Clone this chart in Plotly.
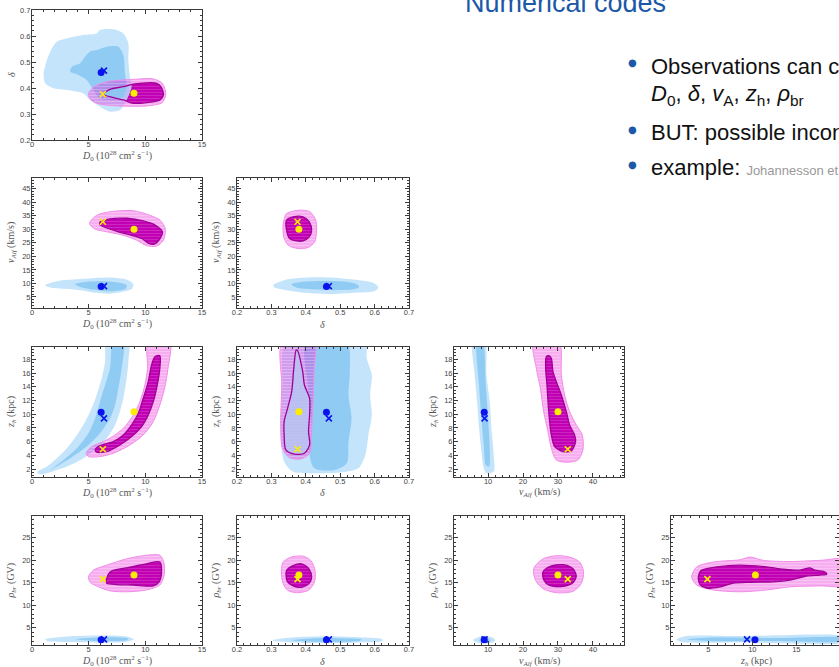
import plotly.graph_objects as go

# ---------------------------------------------------------------------------
# Best-fit points (dot = posterior mean, cross = best fit) for the two setups
# ---------------------------------------------------------------------------
PARAMS = ["D0", "delta", "vA", "zh", "rho"]
BLUE_DOT = [6.1, 0.460, 8.9, 10.3, 2.35]
BLUE_X = [6.35, 0.467, 9.0, 9.4, 2.45]
YELLOW_DOT = [9.0, 0.380, 30.0, 10.35, 16.7]
YELLOW_X = [6.25, 0.376, 32.8, 4.9, 15.8]

# ---------------------------------------------------------------------------
# Credible-region outlines (68% inner, 95% outer) for each parameter pair
# ---------------------------------------------------------------------------
# D0 - delta
D0_DELTA_BLUE_OUT = [(1.76, 0.553), (2.2, 0.578), (3.08, 0.591), (4.54, 0.604), (5.71, 0.610), (6.0, 0.623),
                     (7.18, 0.626), (8.06, 0.610), (8.5, 0.572), (8.5, 0.508), (8.64, 0.444), (8.79, 0.405),
                     (8.35, 0.354), (7.76, 0.315), (6.89, 0.309), (6.0, 0.328), (5.13, 0.354), (4.54, 0.379),
                     (3.08, 0.392), (1.9, 0.399), (1.17, 0.418), (1.03, 0.456), (1.32, 0.508)]
D0_DELTA_BLUE_IN = [(5.13, 0.540), (5.71, 0.546), (6.59, 0.559), (7.62, 0.559), (8.06, 0.527), (8.2, 0.456),
                    (8.35, 0.405), (8.06, 0.367), (7.18, 0.354), (6.0, 0.360), (5.42, 0.392), (4.83, 0.431),
                    (4.1, 0.45), (3.37, 0.463), (3.52, 0.482), (4.25, 0.495), (4.69, 0.521)]
D0_DELTA_MAG_OUT = [(4.98, 0.377), (5.42, 0.403), (6.59, 0.424), (8.94, 0.433), (10.7, 0.435), (11.5, 0.418),
                    (11.8, 0.379), (11.5, 0.344), (10.1, 0.331), (7.76, 0.331), (6.0, 0.338), (5.19, 0.354)]
D0_DELTA_MAG_IN = [(6.3, 0.376), (6.89, 0.395), (8.06, 0.405), (8.94, 0.415), (10.1, 0.420), (11.0, 0.418),
                   (11.4, 0.403), (11.6, 0.373), (11.3, 0.354), (10.1, 0.344), (8.94, 0.341), (8.06, 0.354),
                   (7.18, 0.363)]

# D0 - vA
D0_VA_BLUE_OUT = [(1.17, 9.32), (2.2, 10.8), (4.54, 11.7), (6.89, 12.2), (8.35, 11.4), (8.94, 9.7), (8.82, 8.0),
                  (8.2, 7.1), (6.89, 6.2), (5.71, 6.5), (4.25, 7.5), (2.78, 8.0), (1.61, 8.5)]
D0_VA_BLUE_IN = [(3.8, 9.7), (4.83, 10.6), (6.3, 10.8), (7.47, 10.4), (8.35, 9.3), (8.29, 8.1), (7.62, 7.35),
                 (6.59, 7.1), (5.42, 7.7), (4.25, 8.7)]
D0_VA_MAG_OUT = [(5.07, 32.2), (5.71, 35.2), (6.89, 36.5), (8.94, 36.9), (10.4, 35.2), (11.3, 33.4), (11.75, 30.3),
                 (11.6, 26.0), (11.0, 23.8), (10.1, 24.0), (9.23, 26.0), (8.06, 27.8), (6.59, 29.1), (5.57, 30.1)]
D0_VA_MAG_IN = [(6.0, 32.7), (6.89, 33.9), (8.35, 34.1), (9.82, 33.1), (10.9, 31.5), (11.5, 29.1), (11.3, 26.6),
                (10.75, 24.5), (10.3, 24.8), (9.67, 26.6), (8.79, 27.8), (7.62, 29.1), (6.53, 30.6), (6.0, 31.7)]

# delta - vA
DELTA_VA_BLUE_OUT = [(0.305, 9.3), (0.344, 11.4), (0.402, 12.2), (0.47, 12.2), (0.538, 11.4), (0.596, 10.2),
                     (0.611, 8.5), (0.601, 7.2), (0.538, 6.5), (0.47, 6.0), (0.402, 6.5), (0.344, 7.5), (0.31, 8.5)]
DELTA_VA_BLUE_IN = [(0.358, 9.7), (0.392, 10.6), (0.46, 10.9), (0.518, 10.6), (0.548, 9.7), (0.555, 8.7),
                    (0.538, 7.8), (0.48, 7.5), (0.421, 7.8), (0.373, 8.5)]
DELTA_VA_MAG_OUT = [(0.344, 35.9), (0.383, 37.1), (0.412, 36.5), (0.429, 33.4), (0.431, 29.1), (0.426, 25.4),
                    (0.407, 23.3), (0.378, 22.9), (0.349, 24.1), (0.336, 27.2), (0.334, 31.5), (0.339, 34.6)]
DELTA_VA_MAG_IN = [(0.344, 33.4), (0.363, 34.6), (0.392, 34.6), (0.41, 32.8), (0.417, 29.7), (0.41, 27.2),
                   (0.392, 25.7), (0.373, 25.7), (0.353, 26.6), (0.344, 29.7)]

# D0 - zh
D0_ZH_BLUE_OUT = [(0.44, 1.55), (1.32, 2.37), (2.2, 3.58), (3.08, 5.04), (3.96, 6.98), (4.69, 8.92), (5.27, 10.86),
                  (5.71, 12.8), (6.15, 15.23), (6.45, 17.66), (6.59, 20.5), (8.5, 20.5), (8.5, 17.66),
                  (8.35, 15.23), (8.12, 12.8), (7.76, 10.4), (7.33, 8.44), (6.59, 6.5), (5.71, 5.04),
                  (4.54, 3.58), (3.08, 2.37), (1.61, 1.55), (0.73, 1.25)]
D0_ZH_BLUE_IN = [(1.61, 1.88), (2.78, 3.34), (3.96, 5.04), (4.98, 7.22), (5.57, 9.41), (6.0, 11.83), (6.45, 14.26),
                 (6.89, 16.69), (7.18, 20.5), (8.06, 20.5), (7.91, 16.69), (7.62, 13.78), (7.33, 11.35),
                 (6.89, 9.41), (6.0, 7.22), (4.83, 5.28), (3.37, 3.58), (1.9, 2.13)]
D0_ZH_MAG_OUT = [(4.78, 4.31), (5.27, 5.28), (6.3, 6.01), (7.33, 6.98), (8.2, 8.19), (8.94, 9.89), (9.52, 11.83),
                 (9.96, 14.26), (10.2, 16.69), (10.26, 20.5), (12.16, 20.5), (12.0, 16.69), (11.7, 13.78),
                 (11.28, 11.35), (10.7, 8.92), (9.82, 6.98), (8.64, 5.52), (7.18, 4.31), (6.0, 3.83), (4.98, 3.83)]
D0_ZH_MAG_IN = [(5.57, 4.8), (6.0, 5.43), (7.18, 6.01), (8.06, 6.98), (8.79, 8.44), (9.38, 10.14), (9.82, 12.32),
                (10.26, 14.75), (10.55, 17.17), (10.84, 18.39), (11.28, 18.53), (11.28, 16.69), (11.05, 14.26),
                (10.7, 11.83), (10.26, 9.89), (9.67, 8.19), (8.79, 6.74), (7.76, 5.52), (6.59, 4.55), (5.71, 4.46)]

# delta - zh
DELTA_ZH_BLUE_OUT = [(0.342, 20.5), (0.332, 14.26), (0.327, 6.98), (0.337, 3.1), (0.362, 1.64), (0.425, 1.4),
                     (0.504, 1.54), (0.553, 2.13), (0.573, 4.07), (0.582, 6.98), (0.592, 9.89), (0.587, 12.8),
                     (0.592, 15.72), (0.577, 18.15), (0.573, 20.5)]
DELTA_ZH_BLUE_IN = [(0.401, 20.5), (0.406, 14.26), (0.416, 7.95), (0.411, 4.07), (0.425, 2.13), (0.484, 1.88),
                    (0.519, 2.85), (0.524, 6.01), (0.533, 9.41), (0.524, 12.8), (0.528, 16.2), (0.519, 20.5)]
DELTA_ZH_MAG_OUT = [(0.332, 20.5), (0.33, 14.26), (0.327, 7.95), (0.332, 5.04), (0.352, 3.68), (0.386, 3.49),
                    (0.411, 4.31), (0.416, 6.98), (0.421, 11.83), (0.424, 16.69), (0.425, 20.5)]
DELTA_ZH_MAG_IN = [(0.375, 19.36), (0.391, 16.2), (0.396, 14.26), (0.411, 12.32), (0.411, 9.89), (0.408, 7.47),
                   (0.411, 5.52), (0.396, 4.31), (0.367, 4.17), (0.342, 4.8), (0.337, 6.98), (0.337, 8.92),
                   (0.347, 10.86), (0.359, 13.29), (0.365, 16.69), (0.372, 19.36)]

# vA - zh
VA_ZH_BLUE_OUT = [(5.72, 20.5), (6.19, 15.72), (6.86, 11.83), (7.43, 7.95), (8.1, 4.55), (8.77, 2.13), (9.53, 1.4),
                  (11.62, 1.64), (11.62, 4.07), (10.96, 7.95), (10.48, 11.83), (9.53, 15.72), (9.05, 20.5)]
VA_ZH_BLUE_IN = [(6.86, 20.5), (7.43, 14.26), (8.1, 9.41), (8.77, 5.52), (9.34, 2.61), (10.29, 2.37), (10.48, 5.04),
                 (10.0, 9.41), (9.34, 14.26), (8.39, 20.5)]
VA_ZH_MAG_OUT = [(23.05, 20.5), (23.81, 16.69), (24.96, 13.78), (25.91, 10.38), (27.15, 7.47), (28.1, 5.04),
                 (29.53, 3.34), (32.39, 3.0), (35.7, 3.34), (37.15, 4.8), (36.96, 6.98), (35.24, 8.44),
                 (33.34, 10.38), (31.91, 12.8), (30.96, 15.72), (30.29, 20.5)]
VA_ZH_MAG_IN = [(26.67, 18.39), (26.48, 16.69), (26.86, 14.26), (27.15, 11.83), (27.62, 8.92), (28.1, 6.98),
                (29.05, 5.28), (31.43, 4.55), (33.81, 4.65), (35.05, 6.01), (34.76, 6.98), (33.34, 8.44),
                (32.39, 10.38), (30.96, 12.8), (29.53, 14.75), (28.58, 16.2), (28.1, 18.15), (27.43, 18.53)]

# D0 - rho_br
D0_RHO_BLUE_OUT = [(1.17, 2.45), (3.08, 3.1), (6.0, 3.32), (8.35, 3.1), (9.0, 2.45), (8.35, 1.93), (6.0, 1.72),
                   (3.08, 1.86), (1.32, 2.08)]
D0_RHO_BLUE_IN = [(3.8, 2.45), (5.42, 2.8), (7.18, 2.9), (8.5, 2.6), (8.35, 2.23), (6.89, 2.08), (5.13, 2.15)]
D0_RHO_MAG_OUT = [(4.98, 16.3), (5.42, 17.8), (6.59, 18.9), (8.35, 20.3), (10.1, 21.1), (11.28, 21.1),
                  (11.63, 19.6), (11.66, 16.7), (11.28, 14.5), (10.1, 13.4), (8.35, 13.0), (6.89, 13.2),
                  (5.86, 14.1), (5.13, 15.1)]
D0_RHO_MAG_IN = [(6.53, 15.2), (6.89, 17.4), (8.35, 18.3), (10.1, 19.2), (11.28, 19.6), (11.43, 17.4),
                 (11.22, 15.2), (10.7, 14.3), (8.94, 14.5), (7.47, 14.6), (6.59, 14.9)]

# delta - rho_br
DELTA_RHO_BLUE_OUT = [(0.304, 2.28), (0.358, 2.87), (0.456, 3.16), (0.554, 2.94), (0.622, 2.5), (0.622, 2.06),
                      (0.554, 1.76), (0.456, 1.62), (0.358, 1.76), (0.31, 2.06)]
DELTA_RHO_BLUE_IN = [(0.358, 2.28), (0.417, 2.65), (0.495, 2.72), (0.563, 2.43), (0.554, 2.06), (0.485, 1.91),
                     (0.407, 1.98)]
DELTA_RHO_MAG_OUT = [(0.334, 19.6), (0.358, 20.7), (0.392, 20.9), (0.415, 19.9), (0.427, 17.7), (0.425, 15.1),
                     (0.407, 13.3), (0.373, 12.8), (0.348, 13.3), (0.334, 14.8), (0.329, 17.4)]
DELTA_RHO_MAG_IN = [(0.344, 17.7), (0.363, 18.8), (0.388, 19.2), (0.409, 18.1), (0.417, 16.25), (0.409, 14.8),
                    (0.388, 14.0), (0.363, 14.3), (0.346, 15.3)]

# vA - rho_br
VA_RHO_BLUE_OUT = [(5.71, 2.28), (7.14, 2.94), (9.05, 3.16), (10.95, 3.0), (12.1, 2.28), (10.95, 1.69),
                   (9.05, 1.54), (7.14, 1.69)]
VA_RHO_BLUE_IN = [(7.43, 2.28), (8.57, 2.72), (10.0, 2.72), (10.76, 2.28), (10.0, 1.84), (8.57, 1.84)]
VA_RHO_MAG_OUT = [(23.05, 18.1), (25.71, 20.3), (29.52, 21.0), (33.33, 20.7), (36.19, 19.6), (37.33, 17.4),
                  (36.67, 14.8), (34.29, 13.1), (29.52, 12.8), (25.71, 13.7), (23.62, 15.5)]
VA_RHO_MAG_IN = [(25.71, 17.4), (27.62, 18.6), (31.43, 19.0), (34.29, 18.1), (35.24, 16.5), (34.29, 15.0),
                 (31.43, 14.2), (27.62, 14.4), (25.9, 15.7)]

# zh - rho_br
ZH_RHO_BLUE_OUT = [(1.4, 2.45), (2.54, 3.18), (8.6, 3.18), (21.0, 3.0), (21.0, 1.93), (8.6, 1.79), (2.0, 1.85)]
ZH_RHO_BLUE_IN = [(2.54, 2.45), (4.81, 2.8), (12.39, 2.74), (21.0, 2.74), (21.0, 2.15), (12.39, 2.08),
                  (4.81, 2.08)]
ZH_RHO_MAG_OUT = [(3.11, 16.3), (3.68, 18.5), (5.57, 19.6), (8.6, 20.1), (9.74, 20.7), (11.25, 19.96),
                  (14.28, 19.7), (17.69, 19.96), (21.0, 20.1), (21.0, 14.5), (17.69, 14.3), (14.28, 14.1),
                  (11.63, 13.4), (8.6, 13.0), (5.57, 13.4), (3.68, 14.5)]
ZH_RHO_MAG_IN = [(3.87, 16.3), (4.25, 17.8), (5.95, 18.5), (8.6, 18.9), (11.63, 18.5), (13.52, 18.0),
                 (15.42, 17.8), (16.56, 18.3), (17.12, 17.8), (18.26, 17.4), (18.45, 16.9), (17.69, 16.7),
                 (16.18, 16.5), (14.28, 15.6), (12.39, 15.2), (9.74, 15.1), (7.84, 14.9), (6.33, 14.1),
                 (4.81, 13.8), (4.06, 14.6)]

# ---------------------------------------------------------------------------
# Axes: labels, ranges, ticks
# ---------------------------------------------------------------------------
LABELS = {
    "D0": "<i>D</i><sub>0</sub> (10<sup>28</sup> cm<sup>2</sup> s<sup>\u22121</sup>)",
    "delta": "<i>\u03b4</i>",
    "vA": "<i>v<sub>Alf</sub></i> (km/s)",
    "zh": "<i>z<sub>h</sub></i> (kpc)",
    "rho": "<i>\u03c1<sub>br</sub></i> (GV)",
}
X_RANGE = {"D0": [0, 15], "delta": [0.2, 0.7], "vA": [0.25, 48.9], "zh": [0.76, 19.85]}
Y_RANGE = {"delta": [0.2, 0.7], "vA": [0.9, 49.0], "zh": [0.85, 19.8], "rho": [1.2, 29.8]}
X_TICKS = {"D0": (5, 1), "delta": (0.1, 0.02), "vA": (10, 2), "zh": (5, 1)}
Y_TICKS = {"delta": (0.1, 0.02), "vA": (5, 1), "zh": (2, 0.5), "rho": (5, 1)}

# panel grid (pixel edges of each frame on the 839x667 page)
W, H = 839, 667
COL_EDGES = [(32, 202), (237, 409), (454, 624), (671, 839)]
ROW_EDGES = [(10, 140), (178, 308), (347, 477), (516, 645)]
ROW_VARS = ["delta", "vA", "zh", "rho"]
COL_VARS = ["D0", "delta", "vA", "zh"]

REGIONS = {
    ("D0", "delta"): (D0_DELTA_BLUE_OUT, D0_DELTA_BLUE_IN, D0_DELTA_MAG_OUT, D0_DELTA_MAG_IN),
    ("D0", "vA"): (D0_VA_BLUE_OUT, D0_VA_BLUE_IN, D0_VA_MAG_OUT, D0_VA_MAG_IN),
    ("delta", "vA"): (DELTA_VA_BLUE_OUT, DELTA_VA_BLUE_IN, DELTA_VA_MAG_OUT, DELTA_VA_MAG_IN),
    ("D0", "zh"): (D0_ZH_BLUE_OUT, D0_ZH_BLUE_IN, D0_ZH_MAG_OUT, D0_ZH_MAG_IN),
    ("delta", "zh"): (DELTA_ZH_BLUE_OUT, DELTA_ZH_BLUE_IN, DELTA_ZH_MAG_OUT, DELTA_ZH_MAG_IN),
    ("vA", "zh"): (VA_ZH_BLUE_OUT, VA_ZH_BLUE_IN, VA_ZH_MAG_OUT, VA_ZH_MAG_IN),
    ("D0", "rho"): (D0_RHO_BLUE_OUT, D0_RHO_BLUE_IN, D0_RHO_MAG_OUT, D0_RHO_MAG_IN),
    ("delta", "rho"): (DELTA_RHO_BLUE_OUT, DELTA_RHO_BLUE_IN, DELTA_RHO_MAG_OUT, DELTA_RHO_MAG_IN),
    ("vA", "rho"): (VA_RHO_BLUE_OUT, VA_RHO_BLUE_IN, VA_RHO_MAG_OUT, VA_RHO_MAG_IN),
    ("zh", "rho"): (ZH_RHO_BLUE_OUT, ZH_RHO_BLUE_IN, ZH_RHO_MAG_OUT, ZH_RHO_MAG_IN),
}

# colours: the blue set is laid semi-transparently over the dark magenta core,
# and the pale pink 95% ring is laid semi-transparently over the blue set
PINK_RING = "rgba(232,24,212,0.35)"
PINK_STRIPE = "rgb(255,255,255)"
MAG_FILL = "rgb(192,0,178)"
MAG_STRIPE = "rgb(222,90,212)"
BLUE_OUT_FILL = "rgba(184,223,250,0.85)"
BLUE_IN_FILL = "rgba(135,199,242,0.85)"
PINK_LINE = "rgb(242,140,232)"
MAG_LINE = "rgb(160,0,150)"
DOT_BLUE = "rgb(12,20,235)"
DOT_YELLOW = "rgb(252,236,0)"
FRAME = "#3a3a3a"
TICK_FONT = dict(family="Liberation Sans, Arial, sans-serif", size=7.5, color="#444")
TITLE_FONT = dict(family="Liberation Serif, DejaVu Serif, serif", size=10, color="#555")

fig = go.Figure()


def signed_area(poly):
    s = 0.0
    for (x0, y0), (x1, y1) in zip(poly, poly[1:] + poly[:1]):
        s += x0 * y1 - x1 * y0
    return s / 2


def closed(poly):
    xs = [p[0] for p in poly] + [poly[0][0]]
    ys = [p[1] for p in poly] + [poly[0][1]]
    return xs, ys


def area(poly, xa, ya, color, stripe=None, stripe_opacity=0.45, hole=None):
    if hole is not None:
        # outer ring counter-clockwise, hole clockwise -> non-zero rule leaves the hole empty
        outer = poly if signed_area(poly) > 0 else poly[::-1]
        inner = hole if signed_area(hole) < 0 else hole[::-1]
        ox, oy = closed(outer)
        ix, iy = closed(inner)
        xs, ys = ox + [None] + ix, oy + [None] + iy
    else:
        xs, ys = closed(poly)
    kw = {}
    if stripe:
        kw["fillpattern"] = dict(shape="-", bgcolor=color, fgcolor=stripe, fgopacity=stripe_opacity,
                                 size=3, solidity=0.3, fillmode="replace")
    fig.add_trace(go.Scatter(x=xs, y=ys, xaxis=xa, yaxis=ya, mode="lines", fill="toself",
                             fillcolor=color, line=dict(width=0, shape="spline", smoothing=0.8),
                             hoverinfo="skip", showlegend=False, **kw))


def outline(poly, xa, ya, color, width):
    xs, ys = closed(poly)
    fig.add_trace(go.Scatter(x=xs, y=ys, xaxis=xa, yaxis=ya, mode="lines",
                             line=dict(color=color, width=width, shape="spline", smoothing=0.8),
                             hoverinfo="skip", showlegend=False))


def point(vals, xv, yv, xa, ya, color, symbol, size, lw):
    i, j = PARAMS.index(xv), PARAMS.index(yv)
    fig.add_trace(go.Scatter(x=[vals[i]], y=[vals[j]], xaxis=xa, yaxis=ya, mode="markers",
                             marker=dict(color=color, symbol=symbol, size=size,
                                         line=dict(width=lw, color=color)),
                             hoverinfo="skip", showlegend=False))


annotations = []
layout_axes = {}
n = 0
for r, yv in enumerate(ROW_VARS):
    for c in range(r + 1):
        xv = COL_VARS[c]
        n += 1
        xa, ya = f"x{n}", f"y{n}"
        xkey = "xaxis" if n == 1 else f"xaxis{n}"
        ykey = "yaxis" if n == 1 else f"yaxis{n}"
        x0, x1 = COL_EDGES[c]
        y0, y1 = ROW_EDGES[r]
        common = dict(showgrid=False, zeroline=False, showline=True, linecolor=FRAME, linewidth=1,
                      mirror="allticks", ticks="inside", ticklen=4, tickwidth=1, tickcolor=FRAME,
                      tickfont=TICK_FONT, automargin=False)
        xd, xm = X_TICKS[xv]
        yd, ym = Y_TICKS[yv]
        layout_axes[xkey] = dict(common, domain=[x0 / W, min(x1 / W, 1.0)], range=X_RANGE[xv],
                                 anchor=ya, dtick=xd, tick0=0, ticklabelstandoff=-3,
                                 minor=dict(ticks="inside", ticklen=2, dtick=xm, tick0=0, tickcolor=FRAME))
        layout_axes[ykey] = dict(common, domain=[1 - y1 / H, 1 - y0 / H], range=Y_RANGE[yv],
                                 anchor=xa, dtick=yd, tick0=0, ticklabelstandoff=-1,
                                 minor=dict(ticks="inside", ticklen=2, dtick=ym, tick0=0, tickcolor=FRAME))
        # axis titles, set just outside the tick labels
        annotations.append(dict(text=LABELS[xv], x=(x0 + 85) / W, y=1 - (y1 + 16) / H,
                                xref="paper", yref="paper", xanchor="center", yanchor="middle",
                                showarrow=False, font=TITLE_FONT))
        annotations.append(dict(text=LABELS[yv], x=(x0 - 21) / W, y=1 - (y0 + y1) / 2 / H,
                                xref="paper", yref="paper", xanchor="center", yanchor="middle",
                                textangle=-90, showarrow=False, font=TITLE_FONT))

        blue_out, blue_in, mag_out, mag_in = REGIONS[(xv, yv)]
        area(mag_in, xa, ya, MAG_FILL, MAG_STRIPE)
        area(blue_out, xa, ya, BLUE_OUT_FILL)
        area(blue_in, xa, ya, BLUE_IN_FILL)
        area(mag_out, xa, ya, PINK_RING, PINK_STRIPE, stripe_opacity=0.28, hole=mag_in)
        outline(mag_out, xa, ya, PINK_LINE, 1)
        outline(mag_in, xa, ya, MAG_LINE, 1.3)
        point(BLUE_DOT, xv, yv, xa, ya, DOT_BLUE, "circle", 7, 0)
        point(BLUE_X, xv, yv, xa, ya, DOT_BLUE, "x-thin-open", 6, 1.6)
        point(YELLOW_DOT, xv, yv, xa, ya, DOT_YELLOW, "circle", 7, 0)
        point(YELLOW_X, xv, yv, xa, ya, DOT_YELLOW, "x-thin-open", 6, 1.6)

# slide text on the right
SLIDE_TITLE = "Numerical codes"
BULLETS = [
    "Observations can constrain",
    "<i>D</i><sub>0</sub>, <i>\u03b4</i>, <i>v</i><sub>A</sub>, <i>z</i><sub>h</sub>, <i>\u03c1</i><sub>br</sub>",
    "BUT: possible inconsistencies",
    "example: <span style='font-size:13px;color:#999999'>Johannesson et al. 2016</span>",
]
BULLET_ROWS = [66, 95, 132, 168]
BLUE_TEXT = "rgb(28,88,168)"

annotations.append(dict(text=SLIDE_TITLE, x=463 / W, y=1 - 20 / H, xref="paper", yref="paper",
                        xanchor="left", yanchor="bottom", showarrow=False,
                        font=dict(family="Liberation Sans, Arial, sans-serif", size=27, color=BLUE_TEXT)))
for k, (txt, ypx) in enumerate(zip(BULLETS, BULLET_ROWS)):
    annotations.append(dict(text=txt, x=649 / W, y=1 - ypx / H, xref="paper", yref="paper",
                            xanchor="left", yanchor="middle", showarrow=False,
                            font=dict(family="Liberation Sans, Arial, sans-serif", size=22, color="#111")))
    if k != 1:
        annotations.append(dict(text="\u25cf", x=632 / W, y=1 - (ypx - 3) / H, xref="paper", yref="paper",
                                xanchor="center", yanchor="middle", showarrow=False,
                                font=dict(family="DejaVu Sans", size=10, color=BLUE_TEXT)))

fig.update_layout(width=W, height=H, margin=dict(l=0, r=0, t=0, b=0),
                  paper_bgcolor="white", plot_bgcolor="white", showlegend=False,
                  annotations=annotations, **layout_axes)

fig.write_html("out.html")
